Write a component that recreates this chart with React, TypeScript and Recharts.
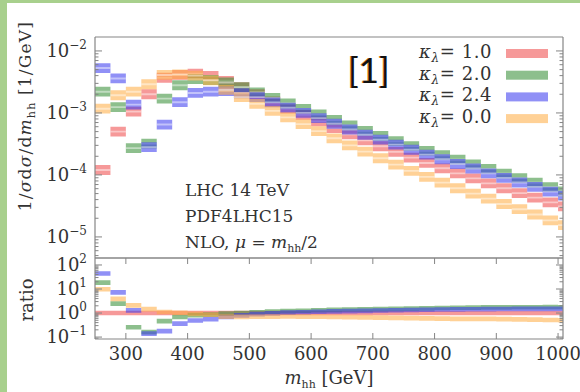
import React from 'react';
import { ComposedChart, Area, XAxis, YAxis } from 'recharts';

// m_hh bins, 25 GeV wide, low edges
const binLow = [250, 275, 300, 325, 350, 375, 400, 425, 450, 475, 500, 525, 550, 575, 600, 625, 650, 675, 700, 725, 750, 775, 800, 825, 850, 875, 900, 925, 950, 975, 1000];
const binWidth = 25;

// 1/sigma dsigma/dm_hh [1/GeV]
const kl10 = [1.2e-4, 5.0e-4, 1.05e-3, 2.0e-3, 3.7e-3, 4.1e-3, 4.3e-3, 3.95e-3, 3.3e-3, 2.6e-3, 2.0e-3, 1.53e-3, 1.18e-3, 9.3e-4, 7.3e-4, 5.7e-4, 4.5e-4, 3.6e-4, 2.9e-4, 2.35e-4, 1.9e-4, 1.56e-4, 1.28e-4, 1.06e-4, 8.8e-5, 7.3e-5, 6.1e-5, 5.1e-5, 4.3e-5, 3.6e-5, 3.1e-5];
const kl20 = [2.2e-3, 1.24e-3, 2.7e-4, 3.2e-4, 1.7e-3, 2.8e-3, 3.5e-3, 3.4e-3, 3.1e-3, 2.6e-3, 2.15e-3, 1.74e-3, 1.42e-3, 1.16e-3, 9.5e-4, 7.7e-4, 6.3e-4, 5.15e-4, 4.25e-4, 3.5e-4, 2.92e-4, 2.45e-4, 2.08e-4, 1.76e-4, 1.48e-4, 1.25e-4, 1.05e-4, 8.9e-5, 7.5e-5, 6.35e-5, 5.4e-5];
const kl24 = [5.3e-3, 3.6e-3, 1.36e-3, 2.8e-4, 6.5e-4, 1.49e-3, 2.1e-3, 2.2e-3, 2.25e-3, 2.08e-3, 1.8e-3, 1.48e-3, 1.22e-3, 1.0e-3, 8.25e-4, 6.7e-4, 5.4e-4, 4.45e-4, 3.7e-4, 3.08e-4, 2.55e-4, 2.13e-4, 1.79e-4, 1.5e-4, 1.27e-4, 1.06e-4, 8.95e-5, 7.55e-5, 6.4e-5, 5.38e-5, 4.65e-5];
const kl00 = [1.17e-3, 1.93e-3, 2.2e-3, 2.9e-3, 4.1e-3, 4.2e-3, 4.0e-3, 3.35e-3, 2.35e-3, 1.8e-3, 1.4e-3, 1.08e-3, 8.5e-4, 6.6e-4, 5.1e-4, 3.9e-4, 3.0e-4, 2.38e-4, 1.86e-4, 1.47e-4, 1.16e-4, 9.3e-5, 7.5e-5, 6.1e-5, 5.0e-5, 4.15e-5, 3.4e-5, 2.8e-5, 2.3e-5, 1.85e-5, 1.55e-5];

const legendLabels = ['1.0', '2.0', '2.4', '0.0'];

const xTicks = [300, 400, 500, 600, 700, 800, 900, 1000];
const xTickLabels = ['300', '400', '500', '600', '700', '800', '900', '1000'];
const upperMajor = [1e-5, 1e-4, 1e-3, 1e-2];
const upperExp = ['\u22125', '\u22124', '\u22123', '\u22122'];
const ratioMajor = [0.1, 1, 10, 100];
const ratioExp = ['\u22121', '0', '1', '2'];

const GREEN_EDGE = '#a8d08d';
const AXIS = '#858585';
const TXT = '#333';
const SERIF = '"DejaVu Serif", "Liberation Serif", serif';

const SERIES = [
  { key: 'k10', values: kl10, color: '#ee4646' },
  { key: 'k20', values: kl20, color: '#2f8a2f' },
  { key: 'k24', values: kl24, color: '#3535ee' },
  { key: 'k00', values: kl00, color: '#ffac3f' },
];

const BAND = 1.2;
const RBAND = 1.25;
const STRIPE = 1.035;

function buildRows(ratio: boolean) {
  const xs = [...binLow, binLow[binLow.length - 1] + binWidth];
  return xs.map((m, i) => {
    const j = Math.min(i, binLow.length - 1);
    const row: any = { m };
    SERIES.forEach((s) => {
      const v = ratio ? s.values[j] / kl10[j] : s.values[j];
      const f = ratio ? RBAND : BAND;
      row[s.key] = [v / f, v * f];
      row[s.key + 's'] = [v / STRIPE, v * STRIPE];
    });
    return row;
  });
}

const upperRows = buildRows(false);
const ratioRows = buildRows(true);

function minorTicks(lo: number, hi: number) {
  const out: number[] = [];
  for (let e = -7; e <= 3; e++) {
    for (let k = 1; k <= 9; k++) {
      const v = k * Math.pow(10, e);
      if (v >= lo && v <= hi) out.push(v);
    }
  }
  return out;
}

const UPPER_DOMAIN = [Math.pow(10, -5.34), Math.pow(10, -1.775)];
const RATIO_DOMAIN = [Math.pow(10, -1.08), Math.pow(10, 2.29)];
const upperTicks = minorTicks(UPPER_DOMAIN[0], UPPER_DOMAIN[1]);
const ratioTicks = minorTicks(RATIO_DOMAIN[0], RATIO_DOMAIN[1]);

function isMajor(v: number) {
  const l = Math.log10(v);
  return Math.abs(l - Math.round(l)) < 1e-6;
}

function LeftTick(props: any) {
  const { x, y, payload, majors, exps } = props;
  const v = payload.value;
  const major = isMajor(v);
  const idx = majors.findIndex((t: number) => Math.abs(Math.log10(t) - Math.log10(v)) < 1e-6);
  return (
    <g>
      <line x1={x} x2={x + (major ? 7 : 3.5)} y1={y} y2={y} stroke={AXIS} strokeWidth={1} />
      {major && idx >= 0 && (
        <text x={x - 8} y={y + 6} textAnchor="end" fontFamily={SERIF} fontSize={18} fill={TXT}>
          10
          <tspan dy={-8} fontSize={12}>{exps[idx]}</tspan>
        </text>
      )}
    </g>
  );
}

function RightTick(props: any) {
  const { x, y, payload } = props;
  const major = isMajor(payload.value);
  return <line x1={x} x2={x - (major ? 7 : 3.5)} y1={y} y2={y} stroke={AXIS} strokeWidth={1} />;
}

function BottomTick(props: any) {
  const { x, y, payload } = props;
  const idx = xTicks.indexOf(payload.value);
  return (
    <g>
      <line x1={x} x2={x} y1={y} y2={y - 6} stroke={AXIS} strokeWidth={1} />
      <text x={x} y={y + 21} textAnchor="middle" fontFamily={SERIF} fontSize={18} fill={TXT}>
        {xTickLabels[idx]}
      </text>
    </g>
  );
}

function TopTick(props: any) {
  const { x, y } = props;
  return <line x1={x} x2={x} y1={y} y2={y + 6} stroke={AXIS} strokeWidth={1} />;
}

function renderSeries(stripes: boolean) {
  const out: any[] = [];
  SERIES.forEach((s) => {
    out.push(
      <Area
        key={s.key}
        type="stepAfter"
        dataKey={s.key}
        stroke="none"
        fill={s.color}
        fillOpacity={0.55}
        dot={false}
        activeDot={false}
        isAnimationActive={false}
      />
    );
    if (stripes) {
      out.push(
        <Area
          key={s.key + 's'}
          type="stepAfter"
          dataKey={s.key + 's'}
          stroke="none"
          fill="#ffffff"
          fillOpacity={0.45}
          dot={false}
          activeDot={false}
          isAnimationActive={false}
        />
      );
    }
  });
  return out;
}

const axisLine = { stroke: AXIS, strokeWidth: 1.2 };

export default function App() {
  return (
    <div style={{ position: 'absolute', left: 0, top: 0, width: 580, height: 392, background: '#fff', overflow: 'hidden' }}>
      <div style={{ position: 'absolute', left: 0, top: 0, width: 7, height: 392, background: GREEN_EDGE }} />
      <div style={{ position: 'absolute', left: 0, top: 0, width: 580, height: 3, background: GREEN_EDGE }} />

      <div style={{ position: 'absolute', left: 0, top: 0 }}>
        <ComposedChart width={580} height={392} data={upperRows} margin={{ top: 27, right: 7, bottom: 124, left: 35 }}>
          <XAxis dataKey="m" type="number" domain={[250, 1008]} allowDataOverflow height={10} tick={false} tickLine={false} axisLine={axisLine} />
          <XAxis xAxisId="top" orientation="top" dataKey="m" type="number" domain={[250, 1008]} allowDataOverflow height={10} tick={false} tickLine={false} axisLine={axisLine} />
          <YAxis
            type="number"
            scale="log"
            domain={UPPER_DOMAIN}
            allowDataOverflow
            ticks={upperTicks}
            interval={0}
            width={60}
            tickSize={0}
            tickMargin={0}
            tickLine={false}
            axisLine={axisLine}
            tick={(p: any) => <LeftTick {...p} majors={upperMajor} exps={upperExp} />}
          />
          <YAxis
            yAxisId="right"
            orientation="right"
            type="number"
            scale="log"
            domain={UPPER_DOMAIN}
            allowDataOverflow
            ticks={upperTicks}
            interval={0}
            width={10}
            tickSize={0}
            tickMargin={0}
            tickLine={false}
            axisLine={axisLine}
            tick={(p: any) => <RightTick {...p} />}
          />
          {renderSeries(true)}
        </ComposedChart>
      </div>

      <div style={{ position: 'absolute', left: 0, top: 0 }}>
        <ComposedChart width={580} height={392} data={ratioRows} margin={{ top: 248, right: 7, bottom: 23, left: 35 }}>
          <XAxis
            dataKey="m"
            type="number"
            domain={[250, 1008]}
            allowDataOverflow
            ticks={xTicks}
            interval={0}
            height={30}
            tickSize={0}
            tickMargin={0}
            tickLine={false}
            axisLine={axisLine}
            tick={(p: any) => <BottomTick {...p} />}
          />
          <XAxis
            xAxisId="top"
            orientation="top"
            dataKey="m"
            type="number"
            domain={[250, 1008]}
            allowDataOverflow
            ticks={xTicks}
            interval={0}
            height={10}
            tickSize={0}
            tickMargin={0}
            tickLine={false}
            axisLine={axisLine}
            tick={(p: any) => <TopTick {...p} />}
          />
          <YAxis
            type="number"
            scale="log"
            domain={RATIO_DOMAIN}
            allowDataOverflow
            ticks={ratioTicks}
            interval={0}
            width={60}
            tickSize={0}
            tickMargin={0}
            tickLine={false}
            axisLine={axisLine}
            tick={(p: any) => <LeftTick {...p} majors={ratioMajor} exps={ratioExp} />}
          />
          <YAxis
            yAxisId="right"
            orientation="right"
            type="number"
            scale="log"
            domain={RATIO_DOMAIN}
            allowDataOverflow
            ticks={ratioTicks}
            interval={0}
            width={10}
            tickSize={0}
            tickMargin={0}
            tickLine={false}
            axisLine={axisLine}
            tick={(p: any) => <RightTick {...p} />}
          />
          {renderSeries(false)}
        </ComposedChart>
      </div>

      <svg width={580} height={392} style={{ position: 'absolute', left: 0, top: 0, pointerEvents: 'none' }}>
        {/* axis titles */}
        <text transform="translate(31,116) rotate(-90)" textAnchor="middle" fontFamily={SERIF} fontSize={17} fill={TXT} letterSpacing={1.2}>
          1/<tspan fontStyle="italic">σ</tspan>d<tspan fontStyle="italic">σ</tspan>/d<tspan fontStyle="italic">m</tspan>
          <tspan fontSize={11} dy={4}>hh</tspan>
          <tspan dy={-4}> [1/GeV]</tspan>
        </text>
        <text transform="translate(33,300) rotate(-90)" textAnchor="middle" fontFamily={SERIF} fontSize={18} fill={TXT}>
          ratio
        </text>
        <text x={329} y={384} textAnchor="middle" fontFamily={SERIF} fontSize={18} fill={TXT}>
          <tspan fontStyle="italic">m</tspan>
          <tspan fontSize={11} dy={4}>hh</tspan>
          <tspan dy={-4}> [GeV]</tspan>
        </text>

        {/* process info */}
        <text x={185} y={196} fontFamily={SERIF} fontSize={17} fill={TXT}>LHC 14 TeV</text>
        <text x={185} y={222} fontFamily={SERIF} fontSize={17} fill={TXT}>PDF4LHC15</text>
        <text x={185} y={248} fontFamily={SERIF} fontSize={17} fill={TXT}>
          NLO, <tspan fontStyle="italic">μ</tspan> = <tspan fontStyle="italic">m</tspan>
          <tspan fontSize={11} dy={4}>hh</tspan>
          <tspan dy={-4}>/2</tspan>
        </text>

        {/* reference marker */}
        <text x={348} y={83} fontFamily="Lato, 'Open Sans', sans-serif" fontSize={35} fill="#111" style={{ textShadow: '-1px 0 #d9892a' }}>
          [1]
        </text>

        {/* legend */}
        {SERIES.map((s, i) => (
          <g key={s.key}>
            <text x={419} y={58 + i * 21.7} fontFamily={SERIF} fontSize={18} fill={TXT} letterSpacing={0.6}>
              <tspan fontStyle="italic">κ</tspan>
              <tspan fontSize={12} dy={4} fontStyle="italic">λ</tspan>
              <tspan dy={-4}>= {legendLabels[i]}</tspan>
            </text>
            <rect x={506} y={49 + i * 21.7} width={42} height={9} fill={s.color} fillOpacity={0.55} />
          </g>
        ))}
      </svg>
    </div>
  );
}
